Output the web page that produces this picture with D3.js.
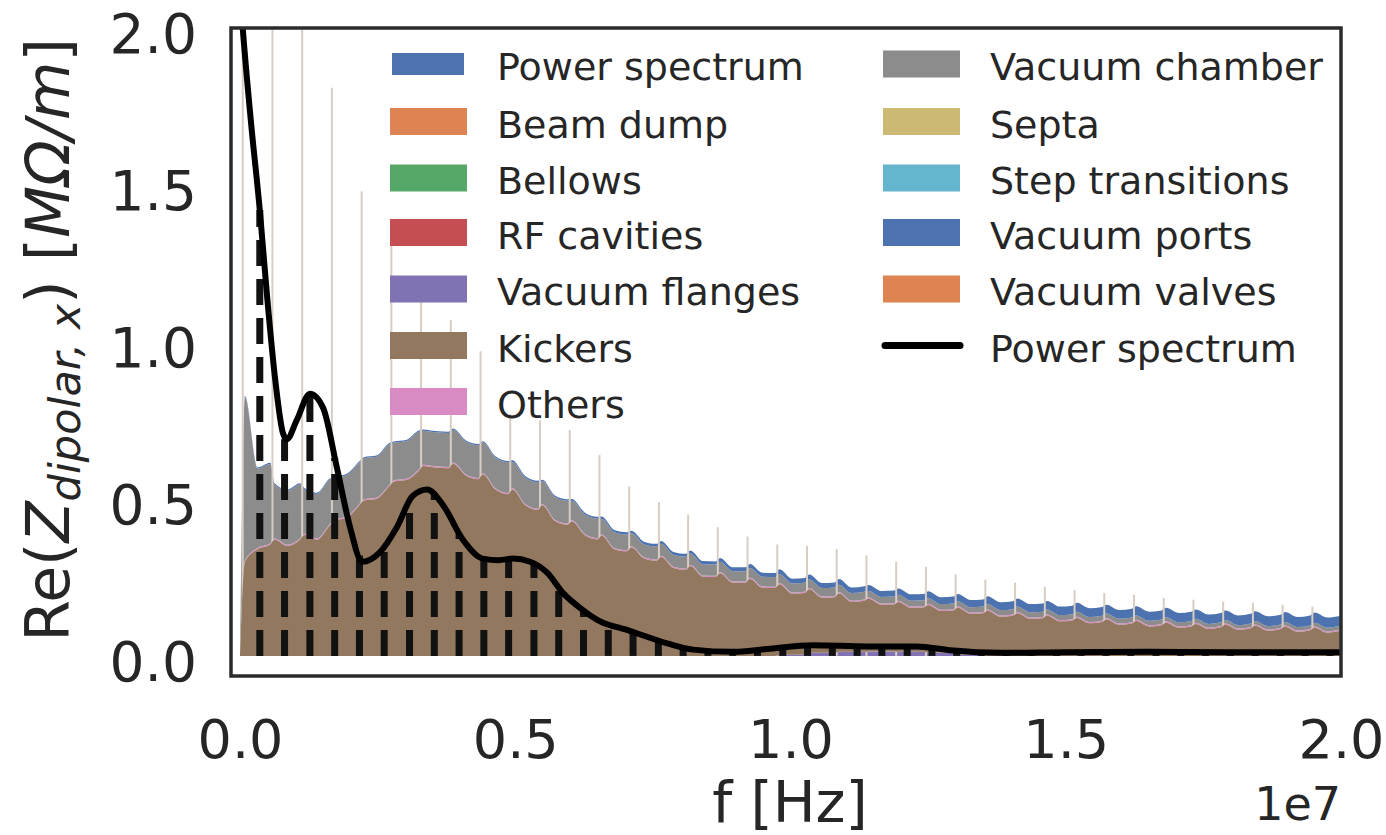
<!DOCTYPE html>
<html>
<head>
<meta charset="utf-8">
<script src="https://cdn.jsdelivr.net/npm/d3@7"></script>
<style>
  html, body { margin: 0; padding: 0; background: #fff; }
  svg { display: block; font-family: "DejaVu Sans", sans-serif; }
</style>
</head>
<body>
<svg id="chart" width="1386" height="835"></svg>
<script>
// ---- Data (frequencies in MHz, impedance in MΩ/m) ----

// Stack layers, bottom to top, with their colours
const layerNames = ["Power spectrum", "Beam dump", "Bellows", "RF cavities", "Vacuum flanges",
  "Kickers", "Others", "Vacuum chamber", "Septa", "Step transitions", "Vacuum ports", "Vacuum valves"];
const layerColors = ["#4C72B0", "#DD8452", "#55A868", "#C44E52", "#8172B3",
  "#937860", "#DA8BC3", "#8C8C8C", "#CCB974", "#64B5CD", "#4C72B0", "#DD8452"];

// Narrow resonances of the impedance: centre frequency and peak of the total
const resonanceMHz = [0.05, 0.59, 1.13, 1.67, 2.21, 2.75, 3.29, 3.83, 4.37, 4.91, 5.45, 5.99, 6.53,
  7.07, 7.61, 8.14, 8.68, 9.22, 9.76, 10.30, 10.84, 11.38, 11.92, 12.46, 13.00, 13.54, 14.08,
  14.62, 15.16, 15.70, 16.24, 16.78, 17.32, 17.86, 18.40, 18.94, 19.48, 20.02];
const resonancePeak = [2.4, 2.4, 2.3, 1.81, 1.48, 1.31, 1.13, 1.07, 0.97, 0.77, 0.75, 0.72, 0.64,
  0.54, 0.49, 0.45, 0.41, 0.38, 0.355, 0.35, 0.34, 0.32, 0.30, 0.284, 0.26, 0.243, 0.233,
  0.22, 0.21, 0.20, 0.195, 0.185, 0.179, 0.173, 0.169, 0.163, 0.157, 0.152];

// Low-frequency edge of the stack
const edgeMHz = [0, 0.09];
const edgeKickers = [0, 0.30];
const edgeOthers = [0, 0.004];
const edgeChamber = [0, 0.52];
const edgePorts = [0, 0.004];

// Layer contributions between neighbouring resonances
// (just after a resonance, mid-way, just before the next one)
const kickersAfter = [null, 0.37, 0.385, 0.43, 0.495, 0.555, 0.605, 0.612, 0.578, 0.53, 0.48, 0.428,
  0.383, 0.345, 0.315, 0.286, 0.263, 0.245, 0.224, 0.202, 0.186, 0.168, 0.159, 0.152, 0.149, 0.144,
  0.136, 0.128, 0.121, 0.116, 0.111, 0.106, 0.102, 0.099, 0.096, 0.093, 0.090];
const kickersMid = [0.34, 0.35, 0.37, 0.44, 0.50, 0.56, 0.60, 0.575, 0.53, 0.48, 0.43, 0.385, 0.34,
  0.31, 0.28, 0.252, 0.233, 0.217, 0.194, 0.175, 0.159, 0.149, 0.140, 0.133, 0.130, 0.125, 0.118,
  0.110, 0.104, 0.099, 0.094, 0.090, 0.086, 0.083, 0.080, 0.077, 0.074];
const kickersBefore = [0.355, 0.37, 0.415, 0.48, 0.54, 0.59, 0.598, 0.563, 0.515, 0.465, 0.418,
  0.371, 0.333, 0.303, 0.274, 0.251, 0.233, 0.216, 0.196, 0.177, 0.163, 0.150, 0.141, 0.135, 0.132,
  0.128, 0.120, 0.113, 0.108, 0.103, 0.098, 0.094, 0.091, 0.088, 0.085, 0.082, 0.079];
const flangesSeg = [0, 0, 0, 0, 0, 0, 0, 0, 0, 0, 0, 0, 0, 0, 0, 0, 0, 0,
  0.004, 0.010, 0.013, 0.014, 0.013, 0.010, 0.004, 0, 0, 0, 0, 0, 0, 0, 0, 0, 0, 0, 0];
const othersSeg = [0.004, 0.004, 0.004, 0.004, 0.004, 0.004, 0.004, 0.004, 0.004, 0.004, 0.004,
  0.004, 0.004, 0.004, 0.004, 0.004, 0.004, 0.004, 0.004, 0.004, 0.004, 0.004, 0.004, 0.004,
  0.004, 0.004, 0.004, 0.004, 0.004, 0.004, 0.004, 0.004, 0.004, 0.004, 0.004, 0.004, 0.004];
const chamberSeg = [0.252, 0.172, 0.142, 0.132, 0.130, 0.120, 0.108, 0.104, 0.098, 0.084, 0.072,
  0.062, 0.050, 0.042, 0.038, 0.036, 0.033, 0.031, 0.029, 0.027, 0.024, 0.021, 0.019, 0.018,
  0.017, 0.017, 0.017, 0.016, 0.016, 0.015, 0.014, 0.013, 0.012, 0.011, 0.011, 0.011, 0.012];
const portsSeg = [0.004, 0.004, 0.004, 0.004, 0.004, 0.004, 0.004, 0.004, 0.004, 0.005, 0.005,
  0.006, 0.007, 0.008, 0.009, 0.010, 0.012, 0.013, 0.015, 0.016, 0.018, 0.019, 0.020, 0.022,
  0.023, 0.025, 0.026, 0.027, 0.028, 0.028, 0.029, 0.030, 0.030, 0.031, 0.031, 0.032, 0.032];

// Beam power spectrum envelope
const spectrumMHz = [0, 0.05, 0.2, 0.36, 0.49, 0.64, 0.78, 0.85, 1.03, 1.27, 1.51, 1.76, 2.0, 2.22,
  2.54, 2.85, 3.14, 3.40, 3.69, 4.05, 4.41, 4.7, 4.96, 5.27, 5.58, 5.87, 6.2, 6.49, 7.08, 7.76,
  8.23, 8.96, 9.57, 10.41, 11.39, 12.30, 12.90, 13.81, 15, 16.5, 18, 20];
const spectrumValue = [2.12, 2.0, 1.70, 1.42, 1.15, 0.88, 0.71, 0.69, 0.75, 0.835, 0.79, 0.60, 0.41,
  0.30, 0.33, 0.41, 0.51, 0.53, 0.48, 0.37, 0.31, 0.305, 0.31, 0.30, 0.265, 0.20, 0.15, 0.115,
  0.08, 0.04, 0.02, 0.013, 0.022, 0.034, 0.030, 0.030, 0.018, 0.01, 0.012, 0.013, 0.012, 0.012];

// Spectral lines of the beam (sampled power spectrum)
const lineMHz = [0.36, 0.81, 1.27, 1.72, 2.17, 2.62, 3.08, 3.53, 3.98, 4.43, 4.88, 5.34, 5.79, 6.24,
  6.69, 7.14, 7.60, 8.05, 8.50, 8.95, 9.40, 9.86, 10.31, 10.76, 11.21, 11.66, 12.12, 12.57, 13.02,
  13.47, 13.92, 14.38, 14.83, 15.28, 15.73, 16.18, 16.64, 17.09, 17.54, 17.99, 18.44, 18.90, 19.35,
  19.80];
const lineValue = [1.42, 0.69, 0.835, 0.63, 0.32, 0.345, 0.49, 0.515, 0.39, 0.31, 0.31, 0.295, 0.215,
  0.145, 0.10, 0.078, 0.05, 0.027, 0.016, 0.013, 0.018, 0.027, 0.034, 0.033, 0.031, 0.030, 0.030,
  0.024, 0.016, 0.012, 0.011, 0.011, 0.011, 0.012, 0.012, 0.012, 0.013, 0.013, 0.012, 0.012, 0.012,
  0.012, 0.012, 0.012];

// Axis ticks
const xTicksMHz = [0, 5, 10, 15, 20];
const xTickLabels = ["0.0", "0.5", "1.0", "1.5", "2.0"];
const yTicks = [0, 0.5, 1.0, 1.5, 2.0];
const yTickLabels = ["0.0", "0.5", "1.0", "1.5", "2.0"];

// Legend columns
const legendLeft = ["Power spectrum", "Beam dump", "Bellows", "RF cavities", "Vacuum flanges", "Kickers", "Others"];
const legendRight = ["Vacuum chamber", "Septa", "Step transitions", "Vacuum ports", "Vacuum valves"];

// ---- Build the stack table ----
const rows = [];
edgeMHz.forEach((f, i) => rows.push({
  f, "Kickers": edgeKickers[i], "Others": edgeOthers[i],
  "Vacuum chamber": edgeChamber[i], "Vacuum ports": edgePorts[i]
}));
for (let n = 0; n < kickersMid.length; n++) {
  const f0 = resonanceMHz[n], f1 = resonanceMHz[n + 1];
  const seg = {
    "Vacuum flanges": flangesSeg[n], "Others": othersSeg[n],
    "Vacuum chamber": chamberSeg[n], "Vacuum ports": portsSeg[n]
  };
  if (kickersAfter[n] !== null) rows.push({ f: f0 + 0.04, ...seg, "Kickers": kickersAfter[n] });
  rows.push({ f: (f0 + f1) / 2, ...seg, "Kickers": kickersMid[n] });
  rows.push({ f: f1 - 0.04, ...seg, "Kickers": kickersBefore[n] });
}

const series = d3.stack()
  .keys(layerNames)
  .value((d, k) => d[k] ?? 0)(rows);

// ---- Layout ----
const svg = d3.select("#chart");
const frame = { left: 231, right: 1341, top: 28, bottom: 676 };
const x = d3.scaleLinear().domain([-0.163, 20]).range([frame.left, frame.right]);
const y = d3.scaleLinear().domain([-0.064, 2.0]).range([frame.bottom, frame.top]);
const textColor = "#262626";

svg.append("defs").append("clipPath").attr("id", "plot-clip")
  .append("rect")
  .attr("x", frame.left).attr("y", frame.top)
  .attr("width", frame.right - frame.left).attr("height", frame.bottom - frame.top);

const plot = svg.append("g").attr("clip-path", "url(#plot-clip)");

const area = d3.area()
  .x(d => x(d.data.f))
  .y0(d => y(d[0]))
  .y1(d => y(d[1]))
  .curve(d3.curveMonotoneX);

const drawn = series.filter(s => rows.some(r => (r[s.key] ?? 0) > 0));
const kickers = drawn.find(s => s.key === "Kickers");

plot.selectAll("path.layer")
  .data(drawn.filter(s => s.key !== "Kickers"))
  .join("path")
  .attr("class", "layer")
  .attr("fill", s => layerColors[s.index])
  .attr("d", area);

// Resonance peaks: thin lines rising out of the stack
plot.selectAll("line.res")
  .data(resonanceMHz.map((f, i) => ({ f, v: resonancePeak[i] })))
  .join("line")
  .attr("class", "res")
  .attr("x1", d => x(d.f)).attr("x2", d => x(d.f))
  .attr("y1", y(0)).attr("y2", d => y(d.v))
  .attr("stroke", "#d8cdc2")
  .attr("stroke-width", 2);

plot.append("path")
  .datum(kickers)
  .attr("fill", layerColors[kickers.index])
  .attr("d", area);

// Spectral lines of the beam
plot.selectAll("line.spec")
  .data(lineMHz.map((f, i) => ({ f, v: lineValue[i] })))
  .join("line")
  .attr("class", "spec")
  .attr("x1", d => x(d.f)).attr("x2", d => x(d.f))
  .attr("y1", y(0)).attr("y2", d => y(d.v))
  .attr("stroke", "#111")
  .attr("stroke-width", 7)
  .attr("stroke-dasharray", "26,13");

// Power spectrum envelope
plot.append("path")
  .datum(spectrumMHz.map((f, i) => [f, spectrumValue[i]]))
  .attr("fill", "none")
  .attr("stroke", "#000")
  .attr("stroke-width", 6)
  .attr("stroke-linejoin", "round")
  .attr("d", d3.line().x(d => x(d[0])).y(d => y(d[1])).curve(d3.curveMonotoneX));

// ---- Axes ----
const xAxis = svg.append("g")
  .attr("transform", `translate(0,${frame.bottom})`)
  .call(d3.axisBottom(x).tickValues(xTicksMHz).tickFormat((d, i) => xTickLabels[i]).tickSize(0).tickPadding(44));
xAxis.select(".domain").remove();
xAxis.selectAll("text").attr("font-size", 54).attr("fill", textColor).attr("font-family", "DejaVu Sans");

const yAxis = svg.append("g")
  .attr("transform", `translate(${frame.left},0)`)
  .call(d3.axisLeft(y).tickValues(yTicks).tickFormat((d, i) => yTickLabels[i]).tickSize(0).tickPadding(34));
yAxis.select(".domain").remove();
yAxis.selectAll("text").attr("font-size", 55).attr("fill", textColor)
  .attr("font-family", "DejaVu Sans").attr("dy", "0.44em");

// Frame
svg.append("rect")
  .attr("x", frame.left).attr("y", frame.top)
  .attr("width", frame.right - frame.left).attr("height", frame.bottom - frame.top)
  .attr("fill", "none").attr("stroke", "#2b2b2b").attr("stroke-width", 3.5);

// Axis titles
svg.append("text")
  .attr("x", (frame.left + frame.right) / 2 + 4).attr("y", 822)
  .attr("text-anchor", "middle").attr("font-size", 57).attr("fill", textColor)
  .text("f [Hz]");

svg.append("text")
  .attr("x", frame.right).attr("y", 820)
  .attr("text-anchor", "end").attr("font-size", 46).attr("fill", textColor)
  .text("1e7");

const yLabel = svg.append("text")
  .attr("transform", `translate(69,${(frame.top + frame.bottom) / 2 - 12}) rotate(-90)`)
  .attr("text-anchor", "middle").attr("font-size", 60).attr("fill", textColor);
yLabel.append("tspan").text("Re(");
yLabel.append("tspan").attr("font-style", "italic").text("Z");
yLabel.append("tspan").attr("font-style", "italic").attr("font-size", 43).attr("dy", 11).text("dipolar, x");
yLabel.append("tspan").attr("dy", -11).text(") [");
yLabel.append("tspan").attr("font-style", "italic").text("MΩ/m");
yLabel.append("tspan").text("]");

// ---- Legend ----
const rowCenters = [64, 121.5, 178, 232.5, 289, 345.5, 401.5];
const legend = svg.append("g").attr("font-size", 38).attr("fill", textColor);

legendLeft.forEach((name, i) => {
  const idx = layerNames.indexOf(name);
  const small = i === 0;
  legend.append("rect")
    .attr("x", small ? 392 : 390).attr("y", rowCenters[i] - (small ? 11 : 13.5))
    .attr("width", small ? 72 : 77).attr("height", small ? 22 : 27)
    .attr("fill", layerColors[idx]);
  legend.append("text").attr("x", 497).attr("y", rowCenters[i] + 16).text(name);
});

legendRight.forEach((name, i) => {
  const idx = layerNames.indexOf(name);
  legend.append("rect")
    .attr("x", 883).attr("y", rowCenters[i] - 13.5)
    .attr("width", 77).attr("height", 27)
    .attr("fill", layerColors[idx]);
  legend.append("text").attr("x", 990).attr("y", rowCenters[i] + 16).text(name);
});

legend.append("line")
  .attr("x1", 885).attr("x2", 960)
  .attr("y1", rowCenters[5]).attr("y2", rowCenters[5])
  .attr("stroke", "#000").attr("stroke-width", 7).attr("stroke-linecap", "round");
legend.append("text").attr("x", 990).attr("y", rowCenters[5] + 16).text("Power spectrum");
</script>
</body>
</html>
